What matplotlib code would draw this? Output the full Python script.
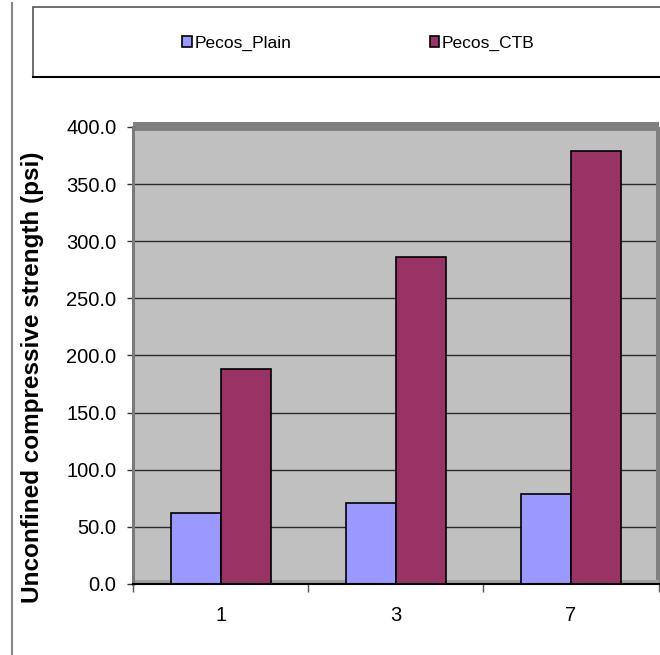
import matplotlib
matplotlib.use("Agg")
import matplotlib.pyplot as plt
from matplotlib.patches import Rectangle
from matplotlib.lines import Line2D
from matplotlib.ticker import FuncFormatter
import numpy as np

categories = ["1", "3", "7"]
series_names = ["Pecos_Plain", "Pecos_CTB"]
plain = [61.7, 70.5, 78.6]
ctb = [188.2, 285.9, 379.3]
yticks = [0, 50, 100, 150, 200, 250, 300, 350, 400]
ylabel = "Unconfined compressive strength (psi)"

NARROW = ["Liberation Sans Narrow", "Liberation Sans", "DejaVu Sans"]
BOLD = ["Liberation Sans", "DejaVu Sans"]

W, H = 660, 655
fig = plt.figure(figsize=(W / 100, H / 100), dpi=100)
fig.patch.set_facecolor("white")

def fx(px):
    return px / W

def fy(py):
    return 1 - py / H

left_px, right_px, top_px, bot_px = 133, 658.6, 127, 583.8
ax = fig.add_axes([fx(left_px), fy(bot_px), (right_px - left_px) / W, (bot_px - top_px) / H])
ax.set_facecolor("#C0C0C0")

x = np.arange(len(categories))
bw = 0.285
b1 = ax.bar(x - bw / 2, plain, bw, color="#9999FF", edgecolor="black", linewidth=1.2, zorder=3, label=series_names[0])
b2 = ax.bar(x + bw / 2, ctb, bw, color="#993366", edgecolor="black", linewidth=1.2, zorder=3, label=series_names[1])

ax.set_xlim(-0.5, 2.5)
ax.set_ylim(0, 400)
ax.set_yticks(yticks)
ax.yaxis.set_major_formatter(FuncFormatter(lambda v, p: f"{v:.1f}"))
for g in yticks[1:-1]:
    ax.axhline(g, color="#2a2a2a", lw=1.0, zorder=1)

# 3D-like wall edges
ax.add_patch(Rectangle((0.0, 396.5), 1.0, 7.5, transform=ax.get_yaxis_transform(),
                       facecolor="#808080", edgecolor="none", clip_on=False, zorder=2))
ax.add_patch(Rectangle((1.0 - 2.6 / (right_px - left_px), 0), 5 / (right_px - left_px), 1.0,
                       transform=ax.transAxes, facecolor="#808080", edgecolor="none",
                       clip_on=False, zorder=2))
ax.add_patch(Rectangle((0.0, 0), 1.0, 3.0, transform=ax.get_yaxis_transform(),
                       facecolor="#A0A0A0", edgecolor="none", zorder=2))

for s in ["top", "right"]:
    ax.spines[s].set_visible(False)
ax.spines["left"].set_color("#7a7a7a")
ax.spines["left"].set_linewidth(2.2)
ax.spines["bottom"].set_color("black")
ax.spines["bottom"].set_linewidth(1.5)
ax.spines["bottom"].set_zorder(4)

ax.set_xticks(x)
ax.set_xticklabels(categories, fontfamily=NARROW, fontsize=14.5)
ax.tick_params(axis="x", which="major", length=0, pad=16)
ax.set_xticks([-0.5, 0.5, 1.5, 2.5], minor=True)
ax.tick_params(axis="x", which="minor", length=6, width=1, color="#555555", direction="out")
ax.tick_params(axis="y", length=4, width=1, color="#333333", pad=8, labelsize=14.5)
for lab in ax.get_yticklabels():
    lab.set_fontfamily(NARROW)

fig.text(fx(33), fy(377), ylabel, rotation=90, ha="center", va="center",
         fontsize=17.5, fontweight="bold", fontfamily=BOLD)

# left border line
fig.add_artist(Line2D([fx(12), fx(12)], [fy(3), fy(655)], color="#888888", lw=1.5))

# legend box
fig.add_artist(Rectangle((fx(33), fy(77)), fx(700) - fx(33), fy(7) - fy(77),
                         transform=fig.transFigure, facecolor="white",
                         edgecolor="#555555", lw=1.2))
fig.add_artist(Line2D([fx(33), fx(660)], [fy(77), fy(77)], color="black", lw=1.5))

leg = fig.legend(handles=[b1, b2], loc="center left", bbox_to_anchor=(fx(182), fy(43)),
                 ncol=2, frameon=False, prop={"family": NARROW, "size": 12.5},
                 handlelength=0.55, handleheight=0.6, handletextpad=0.15,
                 columnspacing=8.0, borderpad=0, borderaxespad=0)

fig.savefig("out.png", dpi=100, facecolor="white")
